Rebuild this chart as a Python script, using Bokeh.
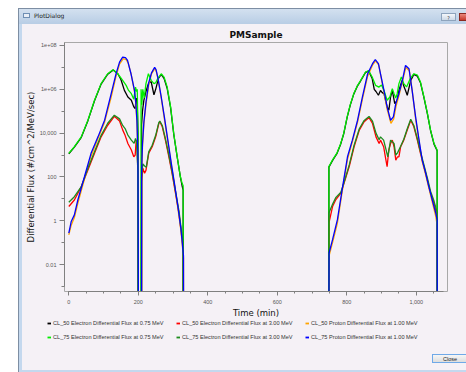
from bokeh.plotting import figure
from bokeh.models import (Range1d, FixedTicker, CustomJSTickFormatter, NumeralTickFormatter,
                          Legend, LegendItem, Div, ColumnDataSource)
from bokeh.layouts import column
from bokeh.embed import file_html
from bokeh.resources import INLINE

GAP = 1e-9  # value used where the flux drops to zero (outside the plotted range)

# (time [min], differential flux)
CL50_E075 = [
    (0, 1.15e3), (16, 2.29e3), (36, 6.46e3), (55, 3.72e4), (74, 3.02e5), (93, 1.74e6),
    (112, 4.9e6), (128, 7.59e6), (141, 5.13e6), (150, 2.82e6), (160, 8.91e5), (170, 4.47e5),
    (180, 3.16e5), (187, 1.58e5), (191, 1.32e5), (194, 3.98e5), (197, 2.0e5), (199, 1.0e4),
    (200, GAP), (209, GAP), (209.5, 2.51e4), (212, 1.0e5), (216, 3.16e5), (222, 7.94e5),
    (230, 2.0e6), (237, 2.24e6), (241, 1.12e6), (245, 5.62e5), (250, 1.0e6), (258, 3.16e6),
    (266, 4.79e6), (274, 3.16e6), (283, 1.12e6), (293, 1.41e5), (302, 8.91e3), (312, 7.94e2),
    (321, 1.0e2), (326, 39.8), (329, 25.1), (329.5, GAP),
    (748, GAP), (748.5, 2.82e2), (760, 6.03e2), (772, 1.2e3), (782, 3.02e3), (791, 9.12e3),
    (801, 5.25e4), (810, 1.91e5), (820, 6.03e5), (830, 1.35e6), (840, 2.45e6), (854, 5.89e6),
    (863, 6.76e6), (873, 3.16e6), (879, 1.0e6), (884, 7.94e5), (891, 5.37e5), (897, 8.91e5),
    (902, 7.08e5), (907, 6.31e5), (916, 1.58e5), (921, 1.12e5), (926, 4.47e5), (931, 8.91e5),
    (938, 2.24e5), (945, 3.16e5), (950, 8.91e5), (959, 2.57e6), (965, 1.26e6), (969, 8.91e5),
    (974, 5.37e5), (984, 2.57e6), (993, 4.79e6), (1003, 3.98e6), (1012, 2.0e6), (1022, 4.17e5),
    (1032, 7.59e4), (1041, 1.32e4), (1051, 3.16e3), (1060, 1.58e3), (1060.5, GAP),
]

CL50_E300 = [
    (0, 4.47), (16, 8.91), (36, 36.3), (55, 2.09e2), (74, 1.2e3), (93, 6.76e3), (112, 2.29e4),
    (131, 5.89e4), (146, 3.55e4), (155, 1.41e4), (162, 7.94e3), (170, 3.39e3), (180, 1.7e3),
    (187, 8.32e2), (191, 1.0e3), (194, 4.79e3), (197, 2.0e3), (199, 1.0e2), (200, GAP),
    (209, GAP), (209.5, 63.1), (213, 2.51e2), (218, 1.48e2), (222, 2.0e2), (230, 1.2e3),
    (240, 2.4e3), (250, 6.76e3), (259, 2.75e4), (262, 3.31e4), (269, 1.95e4), (278, 4.79e3),
    (288, 8.32e2), (297, 1.48e2), (307, 18.2), (317, 2.24), (326, 0.138), (329, 0.063),
    (329.5, GAP),
    (748, GAP), (748.5, 0.794), (759, 4.47), (768, 8.91), (783, 18.2), (792, 51.3),
    (807, 2.95e2), (821, 2.4e3), (836, 1.38e4), (850, 3.31e4), (864, 5.13e4), (874, 2.75e4),
    (884, 6.76e3), (893, 3.39e3), (897, 4.79e3), (906, 2.4e3), (911, 8.32e2), (916, 2.95e2),
    (921, 1.7e3), (926, 3.39e3), (931, 4.79e3), (936, 2.4e3), (941, 5.89e2), (946, 8.32e2),
    (950, 8.32e2), (955, 2.4e3), (964, 4.79e3), (974, 1.38e4), (984, 3.89e4), (993, 1.95e4),
    (1003, 4.79e3), (1012, 1.2e3), (1022, 2.95e2), (1032, 72.4), (1041, 18.2), (1051, 6.31),
    (1058, 2.24), (1060, 1.58), (1060.5, GAP),
]

CL50_P100 = [
    (0, 0.229), (7, 0.631), (16, 1.41), (26, 6.31), (45, 79.4), (64, 8.91e2), (84, 5.62e3),
    (103, 3.16e4), (122, 4.47e5), (136, 3.98e6), (146, 1.41e7), (157, 2.51e7), (165, 2.24e7),
    (171, 1.58e7), (180, 4.47e6), (189, 7.94e5), (193, 2.0e5), (196, 3.16e4), (199, 7.94e2),
    (200.5, GAP), (209, GAP), (209.5, 1.58e2), (212, 2.51e3), (216, 2.51e4), (222, 2.0e5),
    (230, 1.58e6), (238, 5.01e6), (248, 8.91e6), (252, 6.31e6), (257, 2.82e6), (266, 3.98e5),
    (275, 4.47e4), (285, 3.98e3), (295, 3.55e2), (304, 44.7), (314, 3.55), (323, 0.316),
    (330, 0.02), (330.5, GAP),
    (748, GAP), (749, 0.0251), (759, 0.1), (773, 0.794), (788, 28.2), (802, 6.31e2),
    (816, 3.98e3), (831, 3.16e4), (845, 3.55e5), (860, 3.98e6), (874, 1.26e7), (883, 2.0e7),
    (892, 1.26e7), (898, 3.98e6), (907, 7.08e5), (916, 1.26e5), (927, 2.82e4), (935, 4.47e4),
    (942, 1.78e5), (950, 5.01e5), (960, 2.24e6), (970, 1.0e7), (980, 7.08e6), (989, 7.08e5),
    (998, 4.47e4), (1008, 3.98e3), (1017, 5.01e2), (1027, 1.26e2), (1036, 31.6), (1046, 7.08),
    (1056, 1.58), (1060, 0.631), (1060.5, GAP),
]

CL75_E075 = [
    (0, 1.2e3), (16, 2.4e3), (36, 6.76e3), (55, 3.89e4), (74, 3.16e5), (93, 1.82e6),
    (112, 5.13e6), (127, 7.76e6), (141, 5.13e6), (155, 2.57e6), (165, 1.51e6), (172, 8.91e5),
    (180, 6.31e5), (187, 3.55e5), (192, 1.26e6), (195, 7.94e5), (197, 1.0e6), (199, 1.0e4),
    (200, GAP), (207, GAP), (208, 1.0e6), (210, 2.0e5), (213, 1.0e6), (217, 3.98e5),
    (222, 1.82e6), (229, 5.13e6), (237, 2.57e6), (245, 1.82e6), (250, 2.0e6), (256, 3.09e6),
    (266, 5.13e6), (274, 3.63e6), (283, 1.29e6), (293, 1.58e5), (302, 9.55e3), (312, 8.32e2),
    (321, 1.05e2), (326, 51.3), (329, 39.8), (329.5, GAP),
    (748, GAP), (748.5, 2.95e2), (760, 6.31e2), (772, 1.26e3), (782, 3.16e3), (791, 9.55e3),
    (801, 5.5e4), (810, 2.0e5), (820, 6.31e5), (830, 1.41e6), (840, 2.57e6), (854, 6.17e6),
    (863, 7.08e6), (873, 3.63e6), (883, 1.51e6), (892, 1.26e6), (900, 1.58e6), (907, 8.91e5),
    (916, 3.16e5), (924, 4.47e5), (931, 1.07e6), (936, 6.31e5), (941, 3.98e5), (945, 6.31e5),
    (950, 1.82e6), (957, 3.63e6), (964, 1.82e6), (972, 1.29e6), (983, 3.16e6), (993, 5.13e6),
    (1003, 4.47e6), (1012, 2.14e6), (1022, 4.47e5), (1032, 7.94e4), (1041, 1.38e4),
    (1051, 3.39e3), (1060, 1.7e3), (1060.5, GAP),
]

CL75_E300 = [
    (0, 7.08), (16, 12.6), (36, 36.3), (55, 2.51e2), (74, 1.41e3), (93, 7.94e3), (112, 2.82e4),
    (131, 6.61e4), (146, 4.47e4), (155, 2.24e4), (162, 1.62e4), (170, 8.13e3), (180, 4.79e3),
    (188, 3.39e3), (192, 5.75e3), (195, 3.98e3), (199, 1.58e2), (200, GAP), (209, GAP),
    (209.5, 1.0e2), (213, 3.98e2), (218, 3.16e2), (223, 2.82e2), (230, 1.41e3), (240, 2.82e3),
    (250, 7.94e3), (259, 3.02e4), (262, 3.55e4), (269, 2.24e4), (278, 5.62e3), (288, 1.0e3),
    (297, 1.78e2), (307, 22.4), (317, 2.82), (326, 0.2), (329, 0.1), (329.5, GAP),
    (748, GAP), (748.5, 2.24), (759, 5.62), (768, 11.2), (783, 20.0), (792, 56.2),
    (807, 3.55e2), (821, 2.82e3), (836, 1.58e4), (850, 3.8e4), (864, 5.75e4), (874, 3.55e4),
    (884, 1.0e4), (893, 5.01e3), (897, 6.76e3), (906, 4.79e3), (912, 2.0e3), (918, 8.32e2),
    (926, 4.79e3), (936, 3.39e3), (941, 1.0e3), (946, 1.26e3), (955, 2.51e3), (964, 5.25e3),
    (974, 1.58e4), (984, 4.27e4), (993, 2.24e4), (1003, 5.62e3), (1012, 1.41e3), (1022, 3.55e2),
    (1032, 89.1), (1041, 22.4), (1051, 7.94), (1058, 3.16), (1060, 2.51), (1060.5, GAP),
]

CL75_P100 = [
    (0, 0.275), (7, 0.933), (16, 1.86), (26, 8.91), (45, 1.02e2), (64, 1.2e3), (84, 6.76e3),
    (103, 3.89e4), (122, 6.31e5), (136, 5.13e6), (146, 1.74e7), (155, 2.95e7), (163, 2.82e7),
    (169, 2.09e7), (179, 5.13e6), (189, 8.91e5), (193, 2.24e5), (196, 3.89e4), (199, 1.0e3),
    (201, GAP), (209, GAP), (209.5, 2.0e2), (212, 3.16e3), (216, 3.16e4), (222, 2.51e5),
    (230, 2.0e6), (238, 5.62e6), (247, 1.0e7), (251, 7.94e6), (256, 3.63e6), (266, 4.47e5),
    (275, 5.5e4), (285, 4.79e3), (295, 4.17e2), (304, 51.3), (314, 4.47), (323, 0.389),
    (330, 0.0251), (331, GAP),
    (748, GAP), (749, 0.0339), (759, 0.138), (773, 1.12), (788, 36.3), (802, 8.32e2),
    (816, 4.79e3), (831, 3.89e4), (845, 4.47e5), (860, 5.13e6), (874, 1.48e7), (882, 2.29e7),
    (891, 1.48e7), (897, 5.13e6), (907, 8.91e5), (916, 1.58e5), (926, 3.89e4), (934, 5.5e4),
    (941, 2.24e5), (950, 6.31e5), (960, 2.57e6), (969, 1.23e7), (979, 8.71e6), (988, 8.91e5),
    (998, 5.5e4), (1008, 4.79e3), (1017, 5.89e2), (1027, 1.48e2), (1036, 36.3), (1046, 8.91),
    (1056, 2.24), (1060, 1.12), (1060.5, GAP),
]

SERIES_DATA = [CL50_E075, CL50_E300, CL50_P100, CL75_E075, CL75_E300, CL75_P100]
SERIES_NAMES = [
    "CL_50 Electron Differential Flux at 0.75 MeV",
    "CL_50 Electron Differential Flux at 3.00 MeV",
    "CL_50 Proton Differential Flux at 1.00 MeV",
    "CL_75 Electron Differential Flux at 0.75 MeV",
    "CL_75 Electron Differential Flux at 3.00 MeV",
    "CL_75 Proton Differential Flux at 1.00 MeV",
]
SERIES_COLORS = ["#000000", "#ff0000", "#ffa500", "#00ee00", "#1e8c1e", "#0000ff"]

X_TICKS = [0, 200, 400, 600, 800, 1000]
X_MINOR = list(range(0, 1080, 50))
Y_TICKS = [1e8, 1e6, 1e4, 1e2, 1, 1e-2]
Y_TICK_LABELS = ["1e+08", "1e+06", "10,000", "100", "1", "0.01"]
Y_MINOR = [1e-3, 1e-2, 1e-1, 1, 10, 1e2, 1e3, 1e4, 1e5, 1e6, 1e7, 1e8]

BODY = "#f5f1f6"

# ---------------- main plot ----------------
p = figure(width=448, height=296, y_axis_type="log",
           x_range=Range1d(-12.4, 1089.8), y_range=Range1d(5.93e-4, 1.37e8),
           output_backend="svg", toolbar_location=None, title="PMSample",
           min_border_left=46, min_border_right=19, min_border_top=18, min_border_bottom=28)
p.frame_align = False
p.background_fill_color = None
p.border_fill_color = None
p.outline_line_color = "#a8a8a8"
p.outline_line_width = 1
p.xgrid.visible = False
p.ygrid.visible = False

p.title.align = "center"
p.title.text_font = "DejaVu Sans"
p.title.text_font_size = "9px"
p.title.text_font_style = "bold"
p.title.text_color = "#111111"
p.title.standoff = 6

for pts, col in zip(SERIES_DATA, SERIES_COLORS):
    src = ColumnDataSource(dict(t=[a for a, b in pts], v=[b for a, b in pts]))
    p.line("t", "v", source=src, line_color=col, line_width=1.3)

for ax in (p.xaxis[0], p.yaxis[0]):
    ax.axis_line_color = "#808080"
    ax.major_tick_line_color = "#808080"
    ax.minor_tick_line_color = "#808080"
    ax.major_tick_in = 0
    ax.minor_tick_in = 0
    ax.major_label_text_font = "Liberation Sans"
    ax.major_label_text_font_size = "5.5px"
    ax.major_label_text_color = "#555555"
    ax.axis_label_text_font = "DejaVu Sans"
    ax.axis_label_text_font_size = "8.5px"
    ax.axis_label_text_font_style = "normal"
    ax.axis_label_text_color = "#111111"

xa = p.xaxis[0]
xa.ticker = FixedTicker(ticks=X_TICKS, minor_ticks=X_MINOR)
xa.formatter = NumeralTickFormatter(format="0,0")
xa.bounds = (0, 1078)
xa.major_tick_out = 4
xa.minor_tick_out = 2
xa.major_label_standoff = 4
xa.axis_label = "Time (min)"
xa.axis_label_standoff = 1

ya = p.yaxis[0]
ya.ticker = FixedTicker(ticks=Y_TICKS, minor_ticks=Y_MINOR)
ya.formatter = CustomJSTickFormatter(args=dict(tv=Y_TICKS, tl=Y_TICK_LABELS), code="""
const i = tv.findIndex(v => Math.abs(Math.log10(v) - Math.log10(tick)) < 1e-6);
return i >= 0 ? tl[i] : "";
""")
ya.bounds = (1e-3, 1.37e8)
ya.major_tick_out = 5
ya.minor_tick_out = 3
ya.major_label_standoff = 3
ya.axis_label = "Differential Flux (#/cm^2/MeV/sec)"
ya.axis_label_standoff = 1

# ---------------- legend strip (below the plot) ----------------
lg = figure(width=448, height=26, x_range=Range1d(0, 1), y_range=Range1d(0, 1),
            output_backend="svg", toolbar_location=None,
            x_axis_location=None, y_axis_location=None,
            min_border_left=0, min_border_right=0, min_border_top=0, min_border_bottom=0)
lg.frame_align = False
lg.background_fill_color = None
lg.border_fill_color = None
lg.outline_line_color = None
lg.xgrid.visible = False
lg.ygrid.visible = False
# legend proxies: a point pair lying outside the strip's range (never visible)
proxies = [lg.line(x=[-5, -4], y=[-5, -5], line_color=col, line_width=1.8)
           for col in SERIES_COLORS]
legend = Legend(
    items=[LegendItem(label=n, renderers=[r]) for n, r in zip(SERIES_NAMES, proxies)],
    location=(29, 6), orientation="horizontal", ncols=3,
    padding=0, margin=0, spacing=8, border_line_color=None, background_fill_alpha=0,
    glyph_width=4, glyph_height=4, label_height=4, label_width=115, label_standoff=2,
    label_text_font="Liberation Sans", label_text_font_size="5.6px", label_text_color="#333333",
)
lg.add_layout(legend, "center")

# ---------------- dialog chrome ----------------
title_bar = Div(width=448, height=16, margin=0, text=(
    '<div style="position:relative;width:448px;height:16px;">'
    '<div style="position:absolute;left:5px;top:5px;width:7px;height:5px;'
    'background:#e8eef6;border:1px solid #6f8fb4;"></div>'
    '<div style="position:absolute;left:16px;top:4px;font:6px \'DejaVu Sans\';color:#222;">PlotDialog</div>'
    '<div style="position:absolute;left:423px;top:5px;width:15px;height:8px;'
    'background:linear-gradient(#f4f7fb,#cdd9e7);border:1px solid #8ea4bd;'
    'font:5px \'DejaVu Sans\';color:#333;text-align:center;line-height:8px;">?</div>'
    '<div style="position:absolute;left:441px;top:5px;width:14px;height:8px;'
    'background:linear-gradient(#e8877c,#c7392c);border:1px solid #8a2a22;"></div>'
    '</div>'),
    styles={"background": "linear-gradient(#d5e2f0, #b8cde5)",
            "box-shadow": "inset 0 1px 0 #7d8ea3, inset 1px 0 0 #7d8ea3"})

bottom_bar = Div(width=448, height=26, margin=0, text=(
    '<div style="position:relative;width:448px;height:26px;">'
    '<div style="position:absolute;left:414px;top:8px;width:36px;height:9px;'
    'background:linear-gradient(#f6f6f6,#dedede);border:1px solid #6fa9e8;'
    'font:5.5px \'Liberation Sans\';color:#222;text-align:center;line-height:9px;">Close</div>'
    '</div>'))

root = column(title_bar, p, lg, bottom_bar, margin=(8, 0, 0, 18), spacing=0,
              styles={"background-color": BODY,
                      "box-shadow": "inset 1px 0 0 #7d8ea3, inset 4px 0 0 #c4d8ee, inset 0 -2px 0 #c4d8ee"})

open("out.html", "w").write(file_html(root, INLINE))
